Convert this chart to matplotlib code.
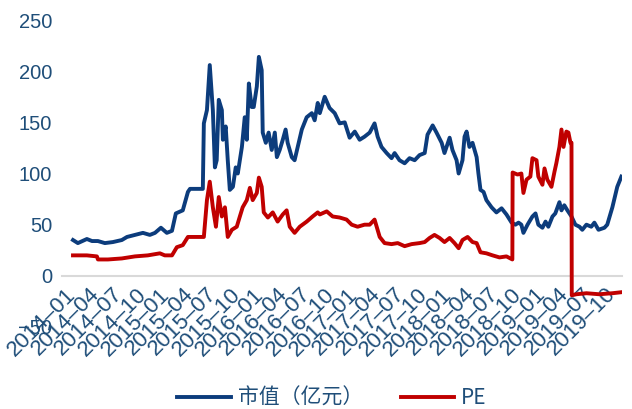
import matplotlib
matplotlib.use('Agg')
import matplotlib.pyplot as plt
import matplotlib.dates as mdates
import numpy as np
import pandas as pd

# 市值（亿元）
mv_dates = ["2014-01-01", "2014-01-20", "2014-02-24", "2014-03-16", "2014-04-08", "2014-05-05",
            "2014-06-05", "2014-07-10", "2014-07-30", "2014-08-30", "2014-09-30", "2014-10-27",
            "2014-11-16", "2014-12-09", "2015-01-01", "2015-01-21", "2015-02-05", "2015-03-04",
            "2015-03-24", "2015-04-01", "2015-05-21", "2015-05-25", "2015-06-06", "2015-06-17",
            "2015-06-29", "2015-07-07", "2015-07-14", "2015-07-22", "2015-08-03", "2015-08-07",
            "2015-08-18", "2015-08-26", "2015-09-03", "2015-09-15", "2015-09-26", "2015-10-04",
            "2015-10-20", "2015-10-31", "2015-11-08", "2015-11-16", "2015-11-27", "2015-12-05",
            "2015-12-17", "2015-12-25", "2016-01-05", "2016-01-09", "2016-01-21", "2016-02-01",
            "2016-02-13", "2016-02-25", "2016-03-04", "2016-03-15", "2016-03-27", "2016-04-07",
            "2016-04-15", "2016-05-01", "2016-05-12", "2016-05-24", "2016-06-09", "2016-06-28",
            "2016-07-18", "2016-07-29", "2016-08-10", "2016-08-18", "2016-09-06", "2016-09-25",
            "2016-10-15", "2016-11-03", "2016-11-23", "2016-12-12", "2017-01-01", "2017-01-20",
            "2017-02-08", "2017-02-28", "2017-03-19", "2017-03-31", "2017-04-15", "2017-05-05",
            "2017-05-24", "2017-06-05", "2017-06-24", "2017-07-14", "2017-08-02", "2017-08-22",
            "2017-09-10", "2017-09-30", "2017-10-11", "2017-10-31", "2017-11-15", "2017-12-05",
            "2017-12-16", "2018-01-05", "2018-01-16", "2018-02-01", "2018-02-09", "2018-02-24",
            "2018-03-04", "2018-03-12", "2018-03-23", "2018-04-04", "2018-04-20", "2018-04-27",
            "2018-05-05", "2018-05-17", "2018-05-28", "2018-06-17", "2018-07-06", "2018-07-26",
            "2018-08-14", "2018-09-03", "2018-09-18", "2018-09-30", "2018-10-11", "2018-10-19",
            "2018-11-04", "2018-11-23", "2018-12-05", "2018-12-16", "2019-01-01", "2019-01-13",
            "2019-01-24", "2019-02-09", "2019-02-20", "2019-03-08", "2019-03-16", "2019-03-27",
            "2019-04-08", "2019-04-24", "2019-05-09", "2019-05-25", "2019-06-05", "2019-06-21",
            "2019-07-10", "2019-07-22", "2019-08-07", "2019-08-30", "2019-09-10", "2019-09-30",
            "2019-10-19", "2019-11-04"]
mv_values = [35, 32, 36, 34, 34, 32,
             33, 35, 38, 40, 42, 40,
             42, 47, 42, 44, 61, 64,
             82, 85, 85, 149, 162, 206,
             162, 106, 113, 172, 162, 133,
             146, 113, 84, 87, 106, 100,
             126, 155, 133, 188, 165, 165,
             185, 214, 201, 140, 130, 140,
             123, 140, 116, 123, 133, 143,
             130, 116, 113, 126, 143, 155,
             159, 152, 169, 159, 175, 164,
             159, 149, 150, 135, 141, 133,
             136, 140, 149, 136, 126, 120,
             115, 120, 113, 110, 115, 113,
             118, 120, 138, 147, 140, 130,
             120, 135, 123, 113, 100, 113,
             136, 141, 126, 130, 116, 100,
             84, 82, 74, 67, 62, 66,
             60, 52, 50, 52, 50, 42,
             50, 58, 61, 50, 47, 53,
             48, 58, 61, 72, 64, 69,
             64, 58, 50, 48, 45, 50,
             48, 52, 45, 47, 50, 67,
             87, 97]

# PE
pe_dates = ["2014-01-01", "2014-02-24", "2014-04-04", "2014-04-08", "2014-05-17", "2014-07-10",
            "2014-08-30", "2014-10-19", "2014-12-05", "2014-12-24", "2015-01-21", "2015-02-09",
            "2015-03-04", "2015-03-24", "2015-05-21", "2015-05-25", "2015-06-06", "2015-06-17",
            "2015-06-29", "2015-07-11", "2015-07-22", "2015-08-03", "2015-08-15", "2015-08-26",
            "2015-09-11", "2015-09-30", "2015-10-12", "2015-10-23", "2015-11-08", "2015-11-20",
            "2015-12-01", "2015-12-17", "2015-12-25", "2016-01-05", "2016-01-13", "2016-01-29",
            "2016-02-17", "2016-03-07", "2016-03-27", "2016-04-11", "2016-04-23", "2016-05-12",
            "2016-06-01", "2016-06-28", "2016-07-21", "2016-08-10", "2016-08-18", "2016-09-14",
            "2016-10-07", "2016-11-03", "2016-11-30", "2016-12-20", "2017-01-12", "2017-02-08",
            "2017-02-28", "2017-03-19", "2017-04-08", "2017-04-27", "2017-05-24", "2017-06-17",
            "2017-07-14", "2017-08-10", "2017-09-10", "2017-09-30", "2017-10-19", "2017-11-07",
            "2017-11-27", "2017-12-16", "2018-01-05", "2018-01-24", "2018-02-09", "2018-02-24",
            "2018-03-16", "2018-04-04", "2018-04-20", "2018-05-05", "2018-05-28", "2018-06-21",
            "2018-07-18", "2018-08-14", "2018-09-06", "2018-09-07", "2018-09-26", "2018-10-11",
            "2018-10-19", "2018-10-31", "2018-11-15", "2018-11-23", "2018-12-09", "2018-12-16",
            "2019-01-01", "2019-01-09", "2019-01-20", "2019-02-05", "2019-02-17", "2019-02-24",
            "2019-03-08", "2019-03-16", "2019-03-24", "2019-04-04", "2019-04-12", "2019-04-20",
            "2019-04-24", "2019-04-25", "2019-05-13", "2019-06-21", "2019-08-10", "2019-09-30",
            "2019-11-04"]
pe_values = [20, 20, 19, 16, 16, 17,
             19, 20, 22, 20, 20, 28,
             30, 38, 38, 38, 74, 92,
             67, 48, 77, 58, 67, 38,
             45, 48, 58, 67, 74, 86,
             74, 81, 96, 87, 62, 57,
             62, 53, 60, 64, 48, 42,
             48, 53, 58, 62, 60, 63,
             58, 57, 55, 50, 48, 50,
             50, 55, 38, 32, 31, 32,
             29, 31, 32, 33, 37, 40,
             37, 33, 37, 32, 27, 35,
             38, 33, 32, 23, 22, 20,
             18, 19, 16, 101, 99, 100,
             81, 94, 97, 115, 113, 97,
             89, 105, 94, 87, 102, 110,
             126, 143, 126, 141, 140, 130,
             130, -19, -18, -17, -18, -17,
             -16]

y_ticks = [-50, 0, 50, 100, 150, 200, 250]

blue = "#0C3C7C"
red = "#C00000"
label_color = "#1F4E79"

plt.rcParams['font.family'] = ['Liberation Sans', 'Noto Sans CJK SC', 'DejaVu Sans']

fig = plt.figure(figsize=(6.32, 4.09), dpi=100)
ax = fig.add_axes([0.098, 0.2005, 0.886, 0.7505])

ax.plot(pd.to_datetime(mv_dates), mv_values, color=blue, lw=2.8, label="市值（亿元）",
        solid_joinstyle='round')
ax.plot(pd.to_datetime(pe_dates), pe_values, color=red, lw=2.8, label="PE",
        solid_joinstyle='round')

ax.set_ylim(-50, 250)
ax.set_yticks(y_ticks)
ax.set_xlim(pd.Timestamp("2013-11-19"), pd.Timestamp("2019-11-06"))
ax.xaxis.set_major_locator(mdates.MonthLocator(bymonth=[1, 4, 7, 10]))
ax.xaxis.set_major_formatter(mdates.DateFormatter('%Y–%m'))

for s in ['top', 'right', 'left']:
    ax.spines[s].set_visible(False)
ax.spines['bottom'].set_position(('data', 0))
ax.spines['bottom'].set_color('#D9D9D9')
ax.spines['bottom'].set_linewidth(1.5)
ax.spines['bottom'].set_zorder(0)

ax.tick_params(axis='y', length=0, labelsize=14.5, labelcolor=label_color, pad=7)
ax.tick_params(axis='x', length=0, labelsize=16, labelcolor=label_color, pad=11)
for lab in ax.get_xticklabels():
    lab.set_rotation(45)
    lab.set_ha('right')
    lab.set_va('center')
    lab.set_rotation_mode('anchor')

leg = fig.legend(loc='center', bbox_to_anchor=(332 / 632, 1 - 398 / 409), ncol=2,
                 frameon=False, handlelength=2.55, handletextpad=0.35, columnspacing=1.8,
                 prop={'family': ['Noto Sans CJK SC'], 'size': 15})
for t in leg.get_texts():
    t.set_color(label_color)

fig.savefig("out.png", dpi=100)
